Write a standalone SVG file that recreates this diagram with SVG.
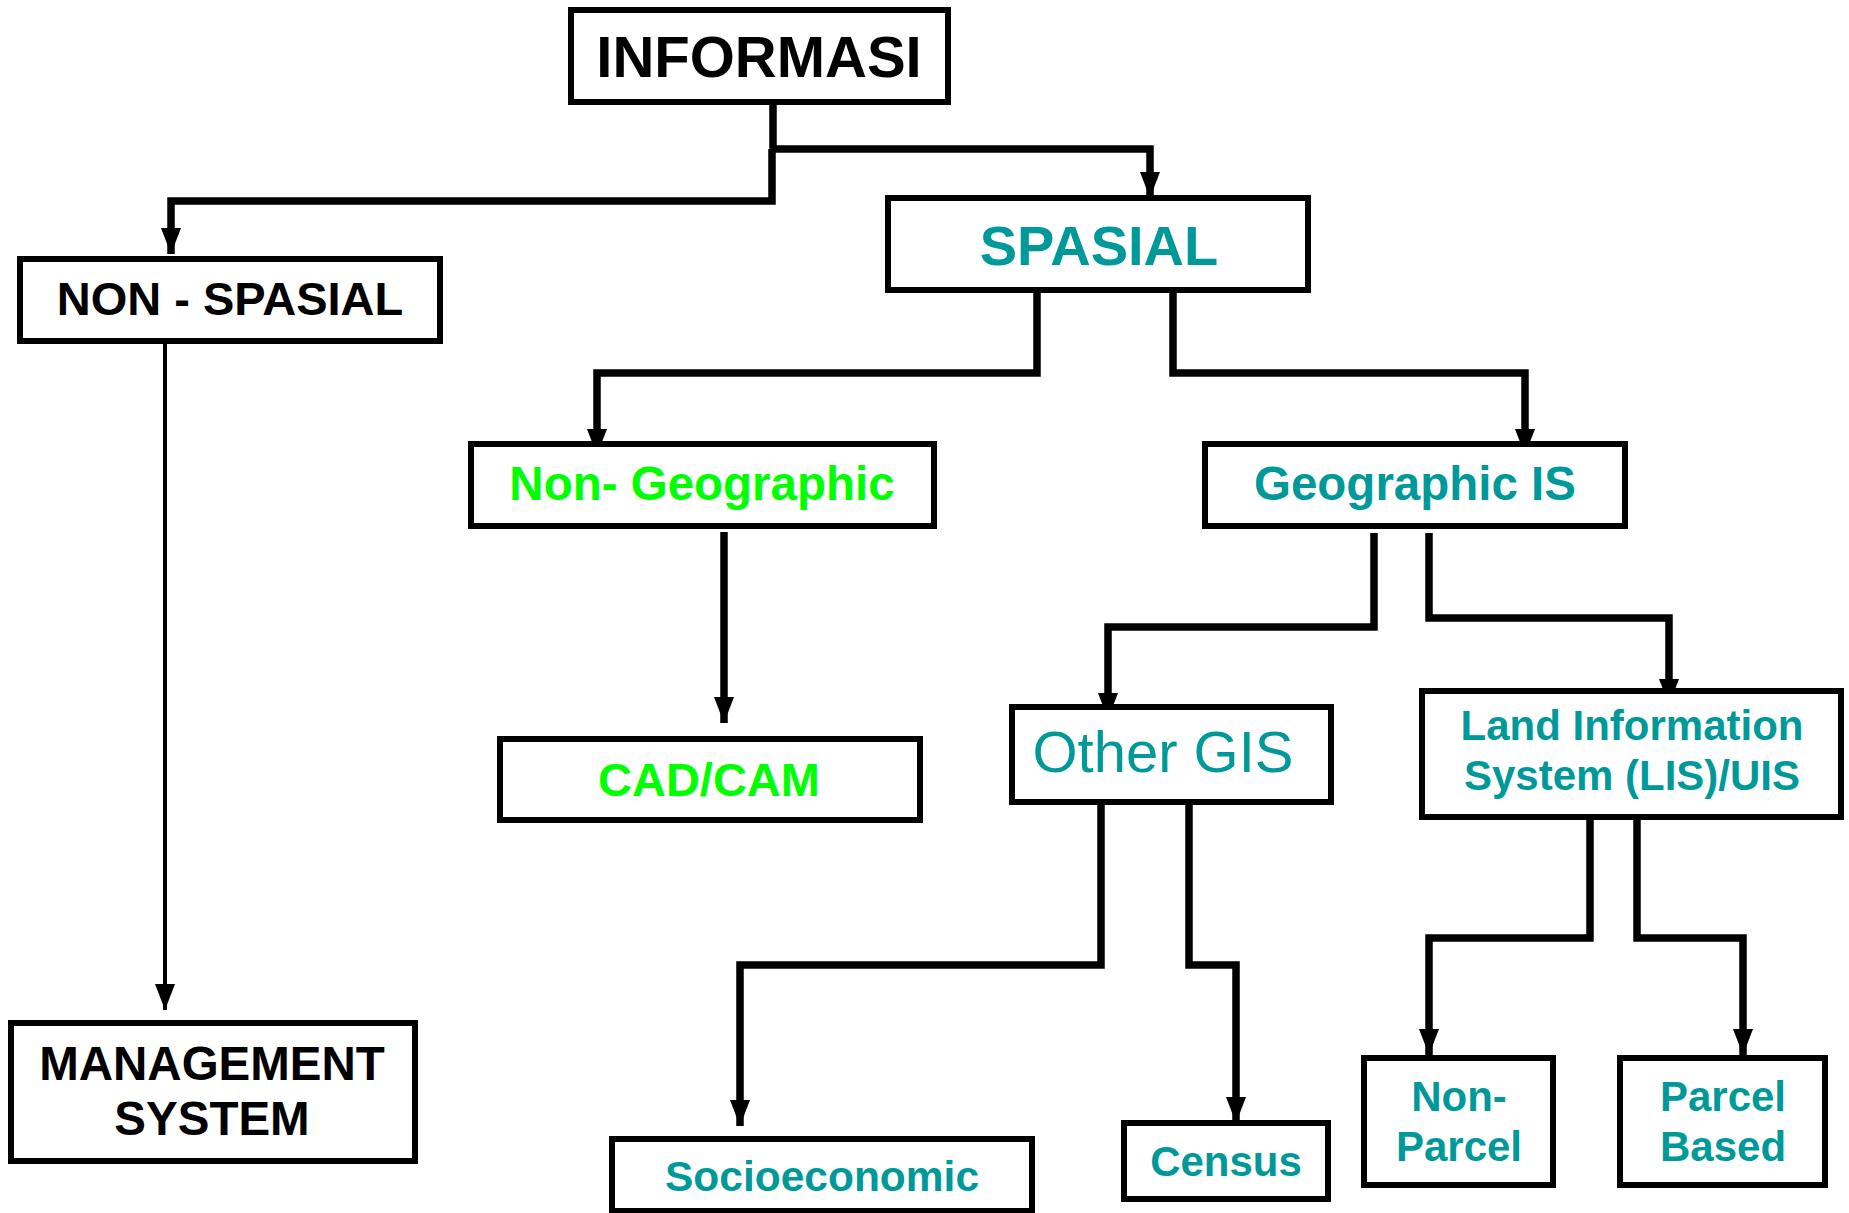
<svg xmlns="http://www.w3.org/2000/svg" width="1849" height="1213" viewBox="0 0 1849 1213">
<style>
.box{fill:#fff;stroke:#000;stroke-width:6}
.t{font-family:"Liberation Sans",Arial,sans-serif;font-weight:bold;text-anchor:middle}
.n{font-weight:normal}
.blk{fill:#000}
.teal{fill:#009999}
.grn{fill:#00ff00}
.c{fill:none;stroke:#000;stroke-width:7.5;stroke-linejoin:miter}
.thin{stroke-width:4}
</style>
<defs>
<marker id="ah" viewBox="0 0 26 20" refX="26" refY="10" markerWidth="26" markerHeight="20" markerUnits="userSpaceOnUse" orient="auto">
<path d="M0,0 L26,10 L0,20 z" fill="#000"/>
</marker>
</defs>
<rect width="1849" height="1213" fill="#fff"/>
<g id="connectors">
<path class="c" d="M773,104 V149 H1150 V198" marker-end="url(#ah)"/>
<path class="c" d="M772,149 V201 H171 V254" marker-end="url(#ah)"/>
<path class="c thin" d="M165,341 V1010" marker-end="url(#ah)"/>
<path class="c" d="M1037,290 V373 H597 V455" marker-end="url(#ah)"/>
<path class="c" d="M1173,290 V373 H1525 V455" marker-end="url(#ah)"/>
<path class="c" d="M724,532 V723" marker-end="url(#ah)"/>
<path class="c" d="M1374,533 V627 H1108 V719" marker-end="url(#ah)"/>
<path class="c" d="M1429,533 V618 H1669 V705" marker-end="url(#ah)"/>
<path class="c" d="M1101,802 V965 H740 V1126" marker-end="url(#ah)"/>
<path class="c" d="M1189,802 V965 H1236 V1123" marker-end="url(#ah)"/>
<path class="c" d="M1590,817 V938 H1429 V1055" marker-end="url(#ah)"/>
<path class="c" d="M1637,817 V938 H1743 V1055" marker-end="url(#ah)"/>
</g>
<g id="informasi"><rect class="box" x="571" y="10" width="377" height="92"/><text class="t blk" x="759" y="77" font-size="58">INFORMASI</text></g>
<g id="non-spasial"><rect class="box" x="20" y="259" width="420" height="82"/><text class="t blk" x="230" y="315" font-size="47">NON - SPASIAL</text></g>
<g id="management"><rect class="box" x="11" y="1023" width="404" height="138"/><text class="t blk" x="212" y="1080" font-size="47.5">MANAGEMENT</text><text class="t blk" x="212" y="1135" font-size="47.5">SYSTEM</text></g>
<g id="spasial"><rect class="box" x="888" y="198" width="420" height="92"/><text class="t teal" x="1099" y="265" font-size="56">SPASIAL</text></g>
<g id="non-geographic"><rect class="box" x="471" y="444" width="463" height="82"/><text class="t grn" x="702" y="500" font-size="47.5">Non- Geographic</text></g>
<g id="cadcam"><rect class="box" x="500" y="739" width="420" height="81"/><text class="t grn" x="709" y="796" font-size="47">CAD/CAM</text></g>
<g id="geographic-is"><rect class="box" x="1205" y="444" width="420" height="82"/><text class="t teal" x="1415" y="500" font-size="47.5">Geographic IS</text></g>
<g id="other-gis"><rect class="box" x="1012" y="707" width="319" height="95"/><text class="t n teal" x="1163" y="772" font-size="58">Other GIS</text></g>
<g id="lis"><rect class="box" x="1422" y="691" width="419" height="126"/><text class="t teal" x="1632" y="740" font-size="42">Land Information</text><text class="t teal" x="1632" y="790" font-size="42">System (LIS)/UIS</text></g>
<g id="socioeconomic"><rect class="box" x="612" y="1139" width="420" height="72"/><text class="t teal" x="822" y="1191" font-size="42.5">Socioeconomic</text></g>
<g id="census"><rect class="box" x="1124" y="1123" width="204" height="76"/><text class="t teal" x="1226" y="1176" font-size="42">Census</text></g>
<g id="non-parcel"><rect class="box" x="1364" y="1058" width="189" height="127"/><text class="t teal" x="1459" y="1111" font-size="42">Non-</text><text class="t teal" x="1459" y="1161" font-size="42">Parcel</text></g>
<g id="parcel-based"><rect class="box" x="1620" y="1058" width="205" height="127"/><text class="t teal" x="1723" y="1111" font-size="42">Parcel</text><text class="t teal" x="1723" y="1161" font-size="42">Based</text></g>
</svg>
